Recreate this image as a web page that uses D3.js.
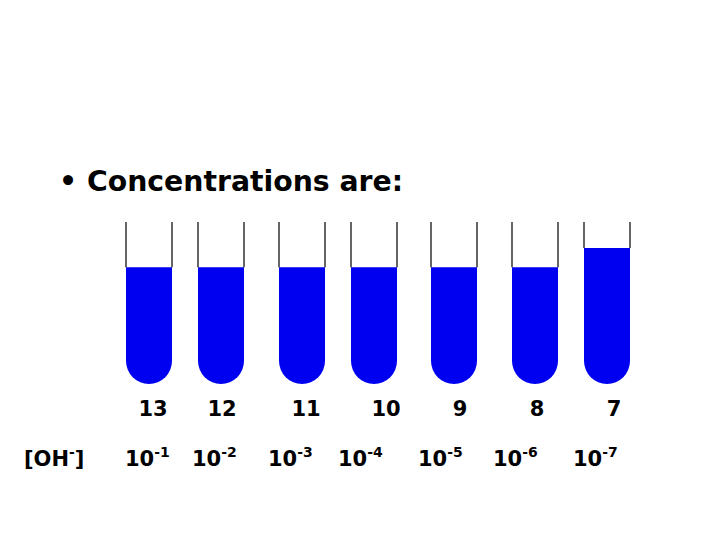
<!DOCTYPE html><html><head><meta charset="utf-8"><script src="https://cdn.jsdelivr.net/npm/d3@7"></script>
<style>body{margin:0;background:#fff}text{font-family:"DejaVu Sans",Verdana,sans-serif;font-weight:bold;fill:#000}</style></head><body>
<svg id="c" width="720" height="540"></svg>
<script>
const pH = [13,12,11,10,9,8,7];
const exponents = [-1,-2,-3,-4,-5,-6,-7];
const fillLevel = [0.72,0.72,0.72,0.72,0.72,0.72,0.84];
const slots = [0,0.72,1.53,2.25,3.05,3.86,4.58];
const svg = d3.select("#c");
const x = d3.scaleLinear().domain([0,4.58]).range([149,607]);
const y = d3.scaleLinear().domain([0,1]).range([384,222]);
const w = 46, r = w/2;
svg.append("text").attr("x",59).attr("y",191).attr("font-size",28.3).text("• Concentrations are:");
const g = svg.selectAll("g.t").data(pH).enter().append("g");
g.append("path").attr("fill","#0000f0").attr("d",(d,i)=>{
  const cx=x(slots[i]), top=y(fillLevel[i]), b=y(0);
  return `M${cx-r},${top}L${cx+r},${top}L${cx+r},${b-r}A${r},${r} 0 0 1 ${cx-r},${b-r}Z`;});
g.append("path").attr("stroke","#000").attr("stroke-width",1.2).attr("fill","none").attr("d",(d,i)=>{
  const cx=x(slots[i]), top=y(fillLevel[i]), t=y(1);
  return `M${cx-r},${t}L${cx-r},${top}M${cx+r},${t}L${cx+r},${top}`;});
const pHoff=[4,1,4,12,6,2,7];
g.append("text").attr("x",(d,i)=>x(slots[i])+pHoff[i]).attr("y",416).attr("text-anchor","middle").attr("font-size",21).text(d=>d);
const concOff=[0,-5,-10,-12,-12,-18,-10];
g.append("text").attr("x",(d,i)=>x(slots[i])-24+concOff[i]).attr("y",466).attr("font-size",21)
  .each(function(d,i){const t=d3.select(this);t.append("tspan").text("10");t.append("tspan").attr("dy",-9).attr("font-size",14).text(exponents[i]);});
const oh=svg.append("text").attr("x",24).attr("y",466).attr("font-size",21);
oh.append("tspan").text("[OH");oh.append("tspan").attr("dy",-9).attr("font-size",14).text("-");oh.append("tspan").attr("dy",9).text("]");
</script></body></html>
